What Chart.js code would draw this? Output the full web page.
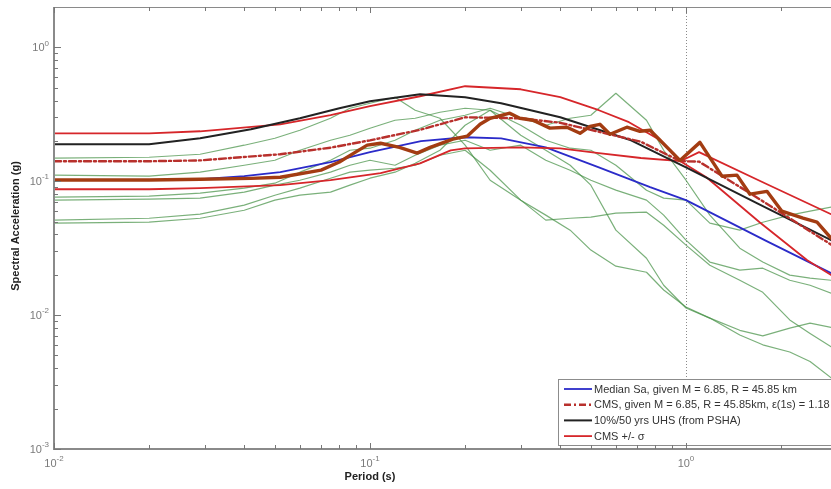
<!DOCTYPE html>
<html>
<head>
<meta charset="utf-8">
<script src="https://cdn.jsdelivr.net/npm/chart.js@4/dist/chart.umd.min.js"></script>
<style>
  html, body { margin: 0; padding: 0; background: #fff; }
  #wrap { width: 831px; height: 489px; }
</style>
</head>
<body>
<div id="wrap"><canvas id="c" width="831" height="489"></canvas></div>
<script>
// ---- Spectral ordinates (period in s, Sa in g) ----
const periodsMedian = [0.01, 0.02, 0.03, 0.04, 0.052, 0.075, 0.1, 0.145, 0.2, 0.26, 0.36, 0.53, 0.77, 1.0, 1.8, 2.88];
const saMedian      = [0.102, 0.102, 0.104, 0.109, 0.117, 0.139, 0.165, 0.199, 0.213, 0.209, 0.179, 0.127, 0.0902, 0.0722, 0.0357, 0.0206];

const periodsCMS = [0.01, 0.02, 0.029, 0.052, 0.075, 0.1, 0.144, 0.2, 0.3, 0.4, 0.53, 0.72, 0.96, 1.1, 1.75, 2.88];
const saCMS      = [0.141, 0.141, 0.143, 0.159, 0.178, 0.202, 0.242, 0.300, 0.295, 0.273, 0.234, 0.197, 0.141, 0.140, 0.0709, 0.0336];

const periodsUHS = [0.01, 0.02, 0.029, 0.042, 0.06, 0.08, 0.1, 0.144, 0.2, 0.26, 0.4, 0.67, 1.0, 1.7, 2.88];
const saUHS      = [0.189, 0.189, 0.209, 0.244, 0.295, 0.351, 0.395, 0.446, 0.424, 0.382, 0.300, 0.202, 0.127, 0.0674, 0.0363];

const periodsPlus = [0.01, 0.02, 0.029, 0.052, 0.075, 0.1, 0.144, 0.2, 0.3, 0.4, 0.53, 0.66, 0.83, 0.96, 1.1, 1.75, 2.88];
const saPlusSigma = [0.228, 0.228, 0.236, 0.266, 0.311, 0.363, 0.431, 0.512, 0.486, 0.424, 0.339, 0.276, 0.202, 0.141, 0.165, 0.0983, 0.0567];

const periodsMinus = [0.01, 0.02, 0.029, 0.052, 0.075, 0.108, 0.144, 0.18, 0.2, 0.3, 0.4, 0.53, 0.72, 0.96, 1.16, 1.71, 2.42, 2.88];
const saMinusSigma = [0.0871, 0.0871, 0.0887, 0.0934, 0.102, 0.115, 0.136, 0.170, 0.176, 0.179, 0.176, 0.162, 0.149, 0.141, 0.107, 0.0494, 0.0257, 0.0199];

// Mean of the selected records
const periodsMean = [0.01, 0.02, 0.029, 0.042, 0.052, 0.07, 0.08, 0.09, 0.098, 0.108, 0.124, 0.141, 0.155, 0.183, 0.203, 0.223, 0.24, 0.277, 0.298, 0.328, 0.371, 0.42, 0.462, 0.497, 0.534, 0.575, 0.65, 0.715, 0.77, 0.846, 0.957, 1.107, 1.3, 1.45, 1.594, 1.804, 2.012, 2.346, 2.598, 2.877];
const saMean      = [0.102, 0.102, 0.1035, 0.105, 0.107, 0.121, 0.139, 0.165, 0.186, 0.192, 0.179, 0.162, 0.179, 0.206, 0.217, 0.266, 0.295, 0.322, 0.295, 0.285, 0.249, 0.253, 0.228, 0.257, 0.266, 0.224, 0.253, 0.236, 0.240, 0.192, 0.143, 0.195, 0.109, 0.111, 0.080, 0.084, 0.0597, 0.0529, 0.0494, 0.0376];

// Individual scaled ground-motion records
const periodsRec = [0.01, 0.02, 0.029, 0.04, 0.05, 0.06, 0.075, 0.0864, 0.1, 0.12, 0.139, 0.1665, 0.2, 0.24, 0.3, 0.36, 0.43, 0.5, 0.6, 0.75, 0.85, 1.0, 1.19, 1.48, 1.75, 2.13, 2.47, 2.88];
const saRec1 = [0.1485, 0.1510, 0.1590, 0.1857, 0.2094, 0.2402, 0.2953, 0.3505, 0.3820, 0.4235, 0.3388, 0.2953, 0.1857, 0.1017, 0.0722, 0.0558, 0.0431, 0.0306, 0.0232, 0.0209, 0.0154, 0.0115, 0.0095, 0.0071, 0.0060, 0.0053, 0.0045, 0.0034];
const saRec2 = [0.1109, 0.1090, 0.1168, 0.1316, 0.1434, 0.1703, 0.2023, 0.2204, 0.2486, 0.2853, 0.2953, 0.3273, 0.3505, 0.3388, 0.2617, 0.2023, 0.1764, 0.1703, 0.1316, 0.0857, 0.0747, 0.0722, 0.0486, 0.0431, 0.0494, 0.0558, 0.0597, 0.0640];
const saRec3 = [0.0760, 0.0773, 0.0814, 0.0887, 0.0966, 0.1168, 0.1434, 0.1703, 0.1764, 0.2023, 0.2402, 0.2853, 0.3108, 0.3505, 0.2953, 0.2617, 0.2953, 0.3108, 0.4535, 0.2853, 0.1703, 0.1017, 0.0558, 0.0316, 0.0249, 0.0199, 0.0189, 0.0182];
const saRec4 = [0.0722, 0.0734, 0.0747, 0.0828, 0.0934, 0.1017, 0.1168, 0.1316, 0.1434, 0.1316, 0.1563, 0.1857, 0.2023, 0.1703, 0.1857, 0.1434, 0.1208, 0.1017, 0.0857, 0.0722, 0.0558, 0.0363, 0.0249, 0.0217, 0.0224, 0.0182, 0.0167, 0.0146];
const saRec5 = [0.0512, 0.0529, 0.0567, 0.0662, 0.0786, 0.0887, 0.1053, 0.1168, 0.1208, 0.1250, 0.1316, 0.1563, 0.1703, 0.1208, 0.0722, 0.0512, 0.0529, 0.0539, 0.0577, 0.0587, 0.0469, 0.0333, 0.0236, 0.0182, 0.0148, 0.0092, 0.0073, 0.0058];
const saRec6 = [0.0486, 0.0494, 0.0529, 0.0607, 0.0722, 0.0786, 0.0828, 0.0934, 0.1053, 0.1168, 0.1362, 0.1703, 0.2617, 0.3388, 0.2204, 0.1703, 0.1316, 0.0934, 0.0431, 0.0266, 0.0167, 0.0113, 0.0095, 0.0077, 0.0070, 0.0080, 0.0087, 0.0081];

// Axis ranges, tick decades and conditioning period
const periodRange = [0.01, 2.877];
const saRange = [0.001, 2];
const xDecades = [0.01, 0.1, 1];
const yDecades = [0.001, 0.01, 0.1, 1];
const conditioningPeriod = 1.0;

// Legend text
const labelMedian = 'Median Sa, given M = 6.85, R = 45.85 km';
const labelCMS    = 'CMS, given M = 6.85, R = 45.85km, \u03b5(1s) = 1.18';
const labelUHS    = '10%/50 yrs UHS (from PSHA)';
const labelSigma  = 'CMS +/- \u03c3';

function pts(px, py) { return px.map((t, i) => ({ x: t, y: py[i] })); }

const recColor = 'rgba(70,145,70,0.72)';
const records = [saRec1, saRec2, saRec3, saRec4, saRec5, saRec6].map((s, k) => ({
  label: 'record' + (k + 1), data: pts(periodsRec, s), borderColor: recColor,
  borderWidth: 1.2, order: 10, inLegend: false
}));

const datasets = [
  { label: 'mean', data: pts(periodsMean, saMean), borderColor: '#a33c12', borderWidth: 3.4, order: 0, inLegend: false },
  { label: labelCMS, data: pts(periodsCMS, saCMS), borderColor: '#b8302c', borderWidth: 2.4, borderDash: [7, 3, 2, 3], order: 1, inLegend: true, legendIndex: 1 },
  { label: labelUHS, data: pts(periodsUHS, saUHS), borderColor: '#222222', borderWidth: 2, order: 2, inLegend: true, legendIndex: 2 },
  { label: labelSigma, data: pts(periodsPlus, saPlusSigma), borderColor: '#d6262a', borderWidth: 1.8, order: 3, inLegend: true, legendIndex: 3 },
  { label: labelSigma + ' (lower)', data: pts(periodsMinus, saMinusSigma), borderColor: '#d6262a', borderWidth: 1.8, order: 3, inLegend: false },
  { label: labelMedian, data: pts(periodsMedian, saMedian), borderColor: '#2b2bc9', borderWidth: 1.8, order: 4, inLegend: true, legendIndex: 0 },
  ...records
];

function drawPow(ctx, x, y, exp, align) {
  // "10" with a superscript exponent
  ctx.font = '11px "Liberation Sans", Arial, sans-serif';
  const wBase = ctx.measureText('10').width;
  ctx.font = '8px "Liberation Sans", Arial, sans-serif';
  const wExp = ctx.measureText(exp).width;
  const total = wBase + wExp;
  let x0 = align === 'right' ? x - total : x - total / 2;
  ctx.textAlign = 'left';
  ctx.textBaseline = 'middle';
  ctx.font = '11px "Liberation Sans", Arial, sans-serif';
  ctx.fillText('10', x0, y);
  ctx.font = '8px "Liberation Sans", Arial, sans-serif';
  ctx.fillText(exp, x0 + wBase, y - 5);
}

const axesPlugin = {
  id: 'matlabAxes',
  beforeDatasetsDraw(chart) {
    const { ctx, chartArea: a, scales: { x } } = chart;
    const px = Math.round(x.getPixelForValue(conditioningPeriod)) + 0.5;
    ctx.save();
    ctx.strokeStyle = '#8a8a8a';
    ctx.lineWidth = 1;
    ctx.setLineDash([1, 2]);
    ctx.beginPath(); ctx.moveTo(px, a.top); ctx.lineTo(px, a.bottom); ctx.stroke();
    ctx.restore();
  },
  afterDatasetsDraw(chart) {
    const { ctx, chartArea: a, scales: { x, y } } = chart;
    ctx.save();

    // legend box
    const lx = 558, ly = 379, lh = 66, lw = 300;
    ctx.fillStyle = '#ffffff';
    ctx.fillRect(lx, ly, lw, lh);
    ctx.strokeStyle = '#8c8c8c';
    ctx.lineWidth = 1;
    ctx.strokeRect(lx + 0.5, ly + 0.5, lw, lh);
    const entries = chart.data.datasets.filter(d => d.inLegend).sort((p, q) => p.legendIndex - q.legendIndex);
    entries.forEach((d, i) => {
      const ry = 389 + i * 15.7;
      ctx.strokeStyle = d.borderColor;
      ctx.lineWidth = d.borderWidth;
      ctx.setLineDash(d.borderDash || []);
      ctx.beginPath(); ctx.moveTo(564, ry); ctx.lineTo(592, ry); ctx.stroke();
      ctx.setLineDash([]);
      ctx.fillStyle = '#333';
      ctx.font = '11px "Liberation Sans", Arial, sans-serif';
      ctx.textAlign = 'left';
      ctx.textBaseline = 'middle';
      ctx.fillText(d.label, 594, ry + 0.5);
    });

    // axis lines
    ctx.strokeStyle = '#8a8a8a';
    ctx.lineWidth = 2;
    ctx.beginPath();
    ctx.moveTo(a.left, a.top); ctx.lineTo(a.left, a.bottom); ctx.lineTo(a.right + 2, a.bottom);
    ctx.stroke();
    ctx.lineWidth = 1.2;
    ctx.beginPath(); ctx.moveTo(a.left, a.top + 0.5); ctx.lineTo(a.right + 2, a.top + 0.5); ctx.stroke();

    // ticks (pointing inwards)
    ctx.lineWidth = 1;
    ctx.strokeStyle = '#777';
    xDecades.forEach(dec => {
      for (let m = 1; m <= 9; m++) {
        const v = dec * m;
        if (v > periodRange[1] + 1e-9) break;
        const px = Math.round(x.getPixelForValue(v)) + 0.5;
        const len = m === 1 ? 6 : 4;
        ctx.beginPath();
        ctx.moveTo(px, a.bottom); ctx.lineTo(px, a.bottom - len);
        ctx.moveTo(px, a.top); ctx.lineTo(px, a.top + len);
        ctx.stroke();
      }
    });
    yDecades.forEach(dec => {
      for (let m = 1; m <= 9; m++) {
        const v = dec * m;
        if (v > saRange[1] - 1e-9) break;
        const py = Math.round(y.getPixelForValue(v)) + 0.5;
        const len = m === 1 ? 7 : 4;
        ctx.beginPath(); ctx.moveTo(a.left, py); ctx.lineTo(a.left + len, py); ctx.stroke();
      }
    });

    // tick labels
    ctx.fillStyle = '#7a7a7a';
    yDecades.forEach(dec => {
      const exp = String(Math.round(Math.log10(dec))).replace('-', '\u2212');
      drawPow(ctx, a.left - 5, y.getPixelForValue(dec) + 1, exp.replace('\u2212', '-'), 'right');
    });
    xDecades.forEach(dec => {
      const exp = String(Math.round(Math.log10(dec)));
      drawPow(ctx, x.getPixelForValue(dec), a.bottom + 15, exp, 'center');
    });

    // axis titles
    ctx.fillStyle = '#222';
    ctx.font = 'bold 11px "Liberation Sans", Arial, sans-serif';
    ctx.textAlign = 'center';
    ctx.textBaseline = 'middle';
    ctx.fillText('Period (s)', x.getPixelForValue(0.1), a.bottom + 28);
    ctx.translate(16, 226);
    ctx.rotate(-Math.PI / 2);
    ctx.fillText('Spectral Acceleration (g)', 0, 0);
    ctx.restore();
  }
};

new Chart(document.getElementById('c'), {
  type: 'line',
  data: { datasets },
  options: {
    responsive: false,
    animation: false,
    devicePixelRatio: 1,
    layout: { padding: { left: 54, top: 7, right: 0, bottom: 40 } },
    elements: { point: { radius: 0 }, line: { tension: 0, borderCapStyle: 'round', borderJoinStyle: 'round' } },
    plugins: { legend: { display: false }, tooltip: { enabled: false } },
    scales: {
      x: { type: 'logarithmic', min: periodRange[0], max: periodRange[1], display: false },
      y: { type: 'logarithmic', min: saRange[0], max: saRange[1], display: false }
    }
  },
  plugins: [axesPlugin]
});
</script>
</body>
</html>
